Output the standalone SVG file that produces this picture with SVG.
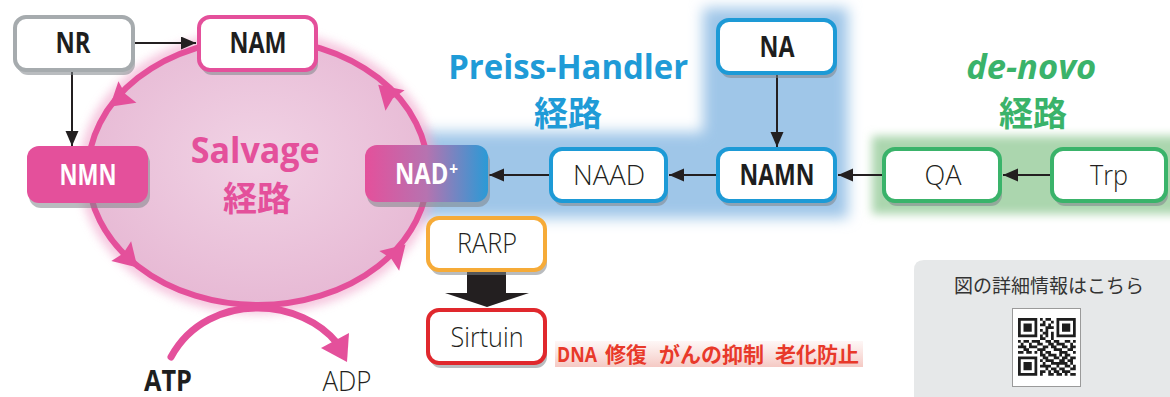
<svg xmlns="http://www.w3.org/2000/svg" xmlns:xlink="http://www.w3.org/1999/xlink" width="1170" height="397" viewBox="0 0 1170 397">
  <style>
    .box { fill: #ffffff; stroke-width: 4; }
    .shadow { fill: #7f858a; opacity: 0.55; }
    .b { font-family: "Open Sans", "Noto Sans", sans-serif; font-weight: 700; font-size: 28px; text-anchor: middle; fill: #1e1e1e; }
    .r { font-family: "Open Sans", "Noto Sans", sans-serif; font-weight: 300; font-size: 28px; text-anchor: middle; fill: #231f20; }
    .w { fill: #ffffff; }
    .lat { font-family: "Open Sans", "Noto Sans", sans-serif; font-weight: 700; }
    .jp { font-family: "Noto Sans CJK JP", sans-serif; font-weight: 700; text-anchor: middle; }
    .thin { stroke: #231f20; stroke-width: 2; fill: none; }
    .cyc { fill: #e4509b; }
  </style>
  <defs>
    <filter id="blur7" x="-20%" y="-20%" width="140%" height="140%"><feGaussianBlur stdDeviation="7"/></filter>
    <filter id="blur5" x="-20%" y="-20%" width="140%" height="140%"><feGaussianBlur stdDeviation="5"/></filter>
    <radialGradient id="salvFill" cx="0.5" cy="0.45" r="0.6">
      <stop offset="0" stop-color="#f1d3e5"/>
      <stop offset="1" stop-color="#e6b7d3"/>
    </radialGradient>
    <linearGradient id="nadFill" x1="0" y1="0" x2="1" y2="0">
      <stop offset="0" stop-color="#e4509b"/>
      <stop offset="0.5" stop-color="#b673b0"/>
      <stop offset="1" stop-color="#2a9ad6"/>
    </linearGradient>
    <linearGradient id="band" x1="0" y1="0" x2="0" y2="1">
      <stop offset="0" stop-color="#f2b0a8" stop-opacity="0.1"/>
      <stop offset="1" stop-color="#eea59c" stop-opacity="0.6"/>
    </linearGradient>
    <marker id="ah" markerUnits="userSpaceOnUse" markerWidth="16" markerHeight="14" refX="15" refY="6.5" orient="auto">
      <path d="M0,0 L15,6.5 L0,13 Z" fill="#231f20"/>
    </marker>
    <polygon id="cycHead" points="12,0 -11,-14 -8,0 -11,14"/>
  </defs>

  <!-- pathway backgrounds -->
  <g id="backgrounds">
    <path d="M703,8 H848 V218 H362 V132 H703 Z" fill="#9fc6e8" filter="url(#blur7)"/>
    <rect x="872" y="136" width="310" height="78" fill="#abd6ae" filter="url(#blur5)"/>
    <ellipse cx="258" cy="172" rx="172" ry="135" fill="none" stroke="#f2aed0" stroke-width="14" opacity="0.7" filter="url(#blur5)"/>
    <ellipse cx="258" cy="172" rx="170" ry="133" fill="url(#salvFill)"/>
    <rect x="555" y="341" width="308" height="26" fill="url(#band)"/>
    <path d="M924,260 H1170 V397 H914 V270 Q914,260 924,260 Z" fill="#e6e8e9"/>
  </g>

  <!-- pathway titles -->
  <g id="titles">
    <text class="jp" fill="#e4509b">
      <tspan x="257" y="163" class="lat" font-size="36" textLength="129" lengthAdjust="spacingAndGlyphs">Salvage</tspan>
      <tspan x="257" y="211" font-size="34">経路</tspan>
    </text>
    <text class="jp" fill="#1f9bd7">
      <tspan x="570" y="79" class="lat" font-size="34" textLength="240" lengthAdjust="spacingAndGlyphs">Preiss-Handler</tspan>
      <tspan x="568" y="126" font-size="34">経路</tspan>
    </text>
    <text class="jp" fill="#3ab36a">
      <tspan x="1033" y="79" class="lat" font-style="italic" font-size="34" textLength="130" lengthAdjust="spacingAndGlyphs">de-novo</tspan>
      <tspan x="1033" y="126" font-size="34">経路</tspan>
    </text>
  </g>

  <!-- connectors -->
  <g id="connectors">
    <ellipse cx="258" cy="172" rx="170" ry="133" fill="none" stroke="#e4509b" stroke-width="6"/>
    <use xlink:href="#cycHead" class="cyc" transform="translate(119,99) rotate(140)"/>
    <use xlink:href="#cycHead" class="cyc" transform="translate(129,259) rotate(45)"/>
    <use xlink:href="#cycHead" class="cyc" transform="translate(397,253) rotate(-45)"/>
    <use xlink:href="#cycHead" class="cyc" transform="translate(387,93) rotate(-137)"/>
    <path d="M171,357 C190,322 225,308 258,308 C290,308 320,322 337,343" fill="none" stroke="#e4509b" stroke-width="7" stroke-linecap="round"/>
    <polygon points="347,362 321,348 349,333" fill="#e4509b"/>
    <line x1="135" y1="43" x2="196" y2="43" class="thin" marker-end="url(#ah)"/>
    <line x1="72" y1="72" x2="72" y2="146" class="thin" marker-end="url(#ah)"/>
    <line x1="549" y1="175" x2="489" y2="175" class="thin" marker-end="url(#ah)"/>
    <line x1="716" y1="175" x2="669" y2="175" class="thin" marker-end="url(#ah)"/>
    <line x1="777" y1="75" x2="777" y2="147" class="thin" marker-end="url(#ah)"/>
    <line x1="882" y1="175" x2="838" y2="175" class="thin" marker-end="url(#ah)"/>
    <line x1="1050" y1="175" x2="1003" y2="175" class="thin" marker-end="url(#ah)"/>
    <polygon points="467,272 506,272 506,293 529,293 487,307 445,293 467,293" fill="#231f20"/>
  </g>

  <!-- nodes -->
  <g id="node-nr">
    <rect x="17" y="22" width="118" height="53" rx="11" class="shadow"/>
    <rect x="15" y="17" width="118" height="53" rx="11" class="box" stroke="#a6abae"/>
    <text x="73" y="53" class="b" textLength="35" lengthAdjust="spacingAndGlyphs">NR</text>
  </g>
  <g id="node-nam">
    <rect x="201" y="22" width="117" height="53" rx="11" class="shadow"/>
    <rect x="199" y="17" width="117" height="53" rx="11" class="box" stroke="#e4509b"/>
    <text x="258" y="53" class="b" textLength="57" lengthAdjust="spacingAndGlyphs">NAM</text>
  </g>
  <g id="node-nmn">
    <rect x="29" y="151" width="121" height="57" rx="12" class="shadow"/>
    <rect x="27" y="146" width="121" height="57" rx="12" fill="#e4509b"/>
    <text x="88" y="185" class="b w" textLength="57" lengthAdjust="spacingAndGlyphs">NMN</text>
  </g>
  <g id="node-nad">
    <rect x="367" y="150" width="123" height="57" rx="12" class="shadow"/>
    <rect x="365" y="145" width="123" height="57" rx="12" fill="url(#nadFill)"/>
    <text transform="translate(395,184) scale(0.85,1)" class="b w" style="text-anchor:start">NAD<tspan dx="1" dy="-9" font-size="18">+</tspan></text>
  </g>
  <g id="node-naad">
    <rect x="553" y="154" width="115" height="52" rx="11" class="shadow"/>
    <rect x="551" y="149" width="115" height="52" rx="11" class="box" stroke="#1d9ad6"/>
    <text x="609" y="185" class="r" textLength="72" lengthAdjust="spacingAndGlyphs">NAAD</text>
  </g>
  <g id="node-na">
    <rect x="720" y="25" width="117" height="53" rx="11" class="shadow"/>
    <rect x="718" y="20" width="117" height="53" rx="11" class="box" stroke="#1d9ad6"/>
    <text x="777" y="57" class="b" textLength="35" lengthAdjust="spacingAndGlyphs">NA</text>
  </g>
  <g id="node-namn">
    <rect x="720" y="154" width="117" height="52" rx="11" class="shadow"/>
    <rect x="718" y="149" width="117" height="52" rx="11" class="box" stroke="#1d9ad6"/>
    <text x="777" y="185" class="b" textLength="75" lengthAdjust="spacingAndGlyphs">NAMN</text>
  </g>
  <g id="node-qa">
    <rect x="886" y="154" width="116" height="52" rx="11" class="shadow"/>
    <rect x="884" y="149" width="116" height="52" rx="11" class="box" stroke="#3ab36a"/>
    <text x="943" y="185" class="r" textLength="37" lengthAdjust="spacingAndGlyphs">QA</text>
  </g>
  <g id="node-trp">
    <rect x="1054" y="154" width="114" height="52" rx="11" class="shadow"/>
    <rect x="1052" y="149" width="114" height="52" rx="11" class="box" stroke="#3ab36a"/>
    <text x="1109" y="185" class="r" textLength="38" lengthAdjust="spacingAndGlyphs">Trp</text>
  </g>
  <g id="node-rarp">
    <rect x="430" y="223" width="117" height="52" rx="11" class="shadow"/>
    <rect x="428" y="218" width="117" height="52" rx="11" class="box" stroke="#f6ab38"/>
    <text x="487" y="253" class="r" textLength="60" lengthAdjust="spacingAndGlyphs">RARP</text>
  </g>
  <g id="node-sirtuin">
    <rect x="430" y="315" width="117" height="53" rx="11" class="shadow"/>
    <rect x="428" y="310" width="117" height="53" rx="11" class="box" stroke="#e0282d"/>
    <text x="487" y="347" class="r" textLength="73" lengthAdjust="spacingAndGlyphs">Sirtuin</text>
  </g>
  <g id="node-atp">
    <text x="168" y="391" class="b" font-size="27" textLength="48" lengthAdjust="spacingAndGlyphs">ATP</text>
  </g>
  <g id="node-adp">
    <text x="347" y="391" class="r" font-size="27" textLength="49" lengthAdjust="spacingAndGlyphs">ADP</text>
  </g>

  <!-- effects of sirtuin -->
  <g id="effects">
    <text class="jp" style="text-anchor:start" font-size="21" fill="#e8392a"><tspan x="557" y="362" class="lat" font-size="21" textLength="40" lengthAdjust="spacingAndGlyphs">DNA</tspan><tspan x="605" y="362">修復</tspan><tspan x="659" y="362">がんの抑制</tspan><tspan x="775" y="362">老化防止</tspan></text>
  </g>

  <!-- detail link panel -->
  <g id="info">
    <text x="1049" y="293" font-family="'Noto Sans CJK JP', sans-serif" font-size="19" text-anchor="middle" fill="#333333">図の詳細情報はこちら</text>
    <rect x="1012.5" y="308.5" width="68" height="78" fill="#ffffff" stroke="#9a9a9a" stroke-width="1"/>
    <path transform="translate(1018,318) scale(2.75)" fill="#1e1e1e" d="
      M0,0h7v1h-7zM8,0h1v1h-1zM10,0h2v1h-2zM14,0h7v1h-7z
      M0,1h1v1h-1zM6,1h1v1h-1zM9,1h1v1h-1zM12,1h1v1h-1zM14,1h1v1h-1zM20,1h1v1h-1z
      M0,2h1v1h-1zM2,2h3v1h-3zM6,2h1v1h-1zM8,2h2v1h-2zM11,2h1v1h-1zM14,2h1v1h-1zM16,2h3v1h-3zM20,2h1v1h-1z
      M0,3h1v1h-1zM2,3h3v1h-3zM6,3h1v1h-1zM10,3h3v1h-3zM14,3h1v1h-1zM16,3h3v1h-3zM20,3h1v1h-1z
      M0,4h1v1h-1zM2,4h3v1h-3zM6,4h1v1h-1zM8,4h1v1h-1zM10,4h1v1h-1zM14,4h1v1h-1zM16,4h3v1h-3zM20,4h1v1h-1z
      M0,5h1v1h-1zM6,5h1v1h-1zM9,5h2v1h-2zM12,5h1v1h-1zM14,5h1v1h-1zM20,5h1v1h-1z
      M0,6h7v1h-7zM8,6h1v1h-1zM10,6h1v1h-1zM12,6h1v1h-1zM14,6h7v1h-7z
      M8,7h2v1h-2zM12,7h1v1h-1z
      M0,8h1v1h-1zM2,8h2v1h-2zM5,8h3v1h-3zM10,8h2v1h-2zM13,8h2v1h-2zM17,8h2v1h-2zM20,8h1v1h-1z
      M1,9h1v1h-1zM4,9h1v1h-1zM7,9h2v1h-2zM11,9h2v1h-2zM14,9h3v1h-3zM19,9h1v1h-1z
      M0,10h3v1h-3zM4,10h3v1h-3zM9,10h2v1h-2zM12,10h2v1h-2zM16,10h2v1h-2zM19,10h2v1h-2z
      M2,11h2v1h-2zM7,11h3v1h-3zM13,11h3v1h-3zM18,11h2v1h-2z
      M0,12h2v1h-2zM3,12h2v1h-2zM6,12h1v1h-1zM8,12h1v1h-1zM10,12h2v1h-2zM15,12h3v1h-3zM20,12h1v1h-1z
      M8,13h2v1h-2zM11,13h3v1h-3zM15,13h1v1h-1zM17,13h2v1h-2z
      M0,14h7v1h-7zM9,14h2v1h-2zM13,14h2v1h-2zM16,14h2v1h-2zM19,14h2v1h-2z
      M0,15h1v1h-1zM6,15h1v1h-1zM8,15h1v1h-1zM10,15h3v1h-3zM15,15h2v1h-2zM18,15h2v1h-2z
      M0,16h1v1h-1zM2,16h3v1h-3zM6,16h1v1h-1zM9,16h1v1h-1zM12,16h6v1h-6zM19,16h1v1h-1z
      M0,17h1v1h-1zM2,17h3v1h-3zM6,17h1v1h-1zM8,17h4v1h-4zM14,17h1v1h-1zM17,17h2v1h-2zM20,17h1v1h-1z
      M0,18h1v1h-1zM2,18h3v1h-3zM6,18h1v1h-1zM10,18h1v1h-1zM12,18h2v1h-2zM15,18h2v1h-2zM19,18h2v1h-2z
      M0,19h1v1h-1zM6,19h1v1h-1zM8,19h2v1h-2zM11,19h1v1h-1zM13,19h2v1h-2zM16,19h3v1h-3z
      M0,20h7v1h-7zM8,20h1v1h-1zM11,20h2v1h-2zM14,20h2v1h-2zM17,20h1v1h-1zM19,20h2v1h-2z"/>
  </g>
</svg>
